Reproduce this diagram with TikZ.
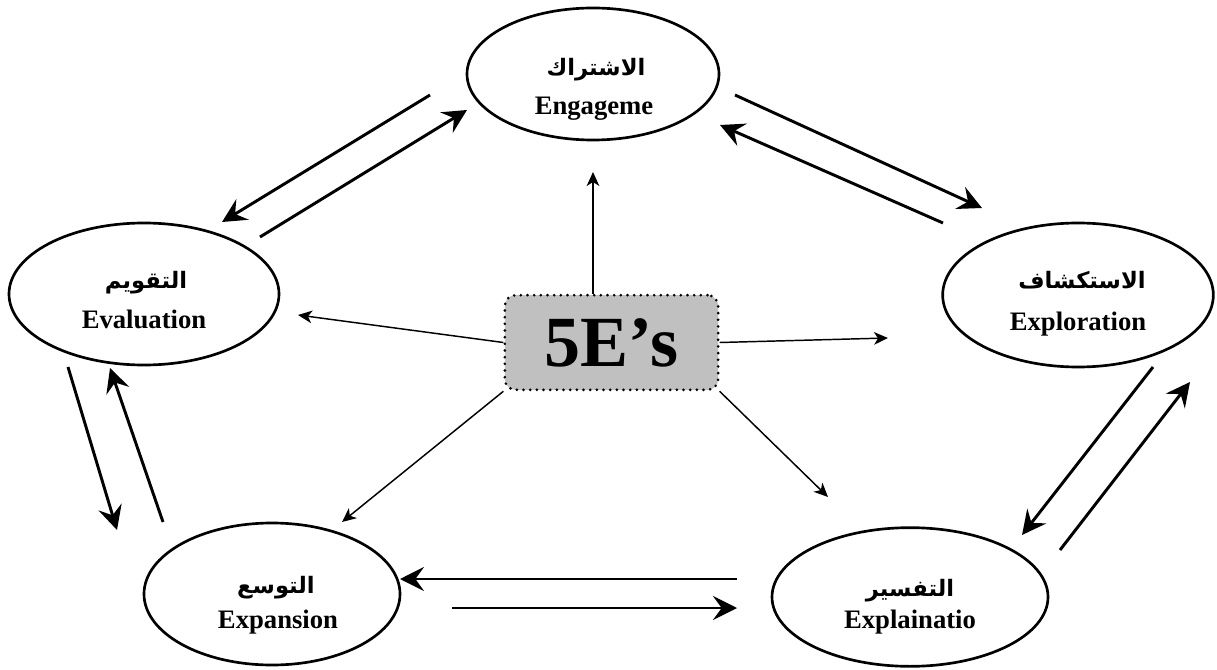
\documentclass[tikz,border=0pt]{standalone}
\usepackage{fontspec}
\setmainfont{Liberation Serif}
\newfontfamily\arfont[Script=Arabic]{DejaVu Sans}
\TeXXeTstate=1
\usetikzlibrary{arrows.meta,shapes.geometric}
\definecolor{boxgray}{HTML}{C0C0C0}
\begin{document}
\begin{tikzpicture}[x=0.75pt,y=-0.75pt,
 phase/.style={draw, line width=2pt, ellipse, inner sep=0pt},
 artext/.style={anchor=base, font=\arfont\bfseries\fontsize{17}{20}\selectfont},
 entext/.style={anchor=base, font=\bfseries\fontsize{20}{24}\selectfont},
 duo/.style={line width=2.2pt, -{Stealth[length=18pt,width=18pt,inset=6.5pt]}},
 spoke/.style={line width=1.1pt, -{Stealth[length=10.5pt,width=9.5pt,inset=3pt]}},
 hub/.style={draw, line width=2.2pt, dash pattern=on 0pt off 5pt, line cap=round, fill=boxgray, rounded corners=8pt, minimum width=160pt, minimum height=71pt, inner sep=0pt, font=\bfseries\fontsize{54}{60}\selectfont}
]
\useasboundingbox (0,0) rectangle (1217,670);

% phases
\node[phase, minimum width=189pt, minimum height=99pt] (eng) at (593,74) {};
\node[phase, minimum width=202.5pt, minimum height=106.5pt] (eva) at (144,294) {};
\node[phase, minimum width=203pt, minimum height=108pt] (exo) at (1078,295) {};
\node[phase, minimum width=192pt, minimum height=106.5pt] (exs) at (272,594) {};
\node[phase, minimum width=207pt, minimum height=104pt] (exl) at (910,597) {};

% texts
\node[artext] (engA) at (596,76) {\beginR الاشتراك\endR};
\node[entext] (engE) at (594,115) {Engageme};
\node[artext] (evaA) at (146,289) {\beginR التقويم\endR};
\node[entext] (evaE) at (144,328) {Evaluation};
\node[artext] (exoA) at (1082,289) {\beginR الاستكشاف\endR};
\node[entext] (exoE) at (1078,330) {Exploration};
\node[artext] (exsA) at (276,593) {\beginR التوسع\endR};
\node[entext] (exsE) at (278,628) {Expansion};
\node[artext] (exlA) at (910,596) {\beginR التفسير\endR};
\node[entext] (exlE) at (910,628) {Explainatio};

% hub
\node[hub] (core) at (611.5,342.5) {5E’s};

% coordinates for the paired arrows
\coordinate (a1s) at (430,95);   \coordinate (a1e) at (222,222);
\coordinate (a2s) at (260,237);  \coordinate (a2e) at (467,110);
\coordinate (a3s) at (735,95);   \coordinate (a3e) at (982,208);
\coordinate (a4s) at (943,223);  \coordinate (a4e) at (720,125);
\coordinate (a5s) at (1153,367); \coordinate (a5e) at (1022,535);
\coordinate (a6s) at (1060,550); \coordinate (a6e) at (1190,382);
\coordinate (a7s) at (68,367);   \coordinate (a7e) at (117,530);
\coordinate (a8s) at (163,522);  \coordinate (a8e) at (110,368);
\coordinate (a9s) at (737,579);  \coordinate (a9e) at (400,579);
\coordinate (a10s) at (452,608); \coordinate (a10e) at (737,608);

\draw[duo] (a1s) -- (a1e);
\draw[duo] (a2s) -- (a2e);
\draw[duo] (a3s) -- (a3e);
\draw[duo] (a4s) -- (a4e);
\draw[duo] (a5s) -- (a5e);
\draw[duo] (a6s) -- (a6e);
\draw[duo] (a7s) -- (a7e);
\draw[duo] (a8s) -- (a8e);
\draw[duo] (a9s) -- (a9e);
\draw[duo] (a10s) -- (a10e);

% spokes
\coordinate (tUp) at (593,172);
\coordinate (tLeft) at (298,315);
\coordinate (tRight) at (888,338);
\coordinate (tDL) at (342,522);
\coordinate (tDR) at (828,497);
\draw[spoke] (core.north -| tUp) -- (tUp);
\draw[spoke] (core.west) -- (tLeft);
\draw[spoke] (core.east) -- (tRight);
\draw[spoke] (core.south west) -- (tDL);
\draw[spoke] (core.south east) -- (tDR);
\end{tikzpicture}
\end{document}
